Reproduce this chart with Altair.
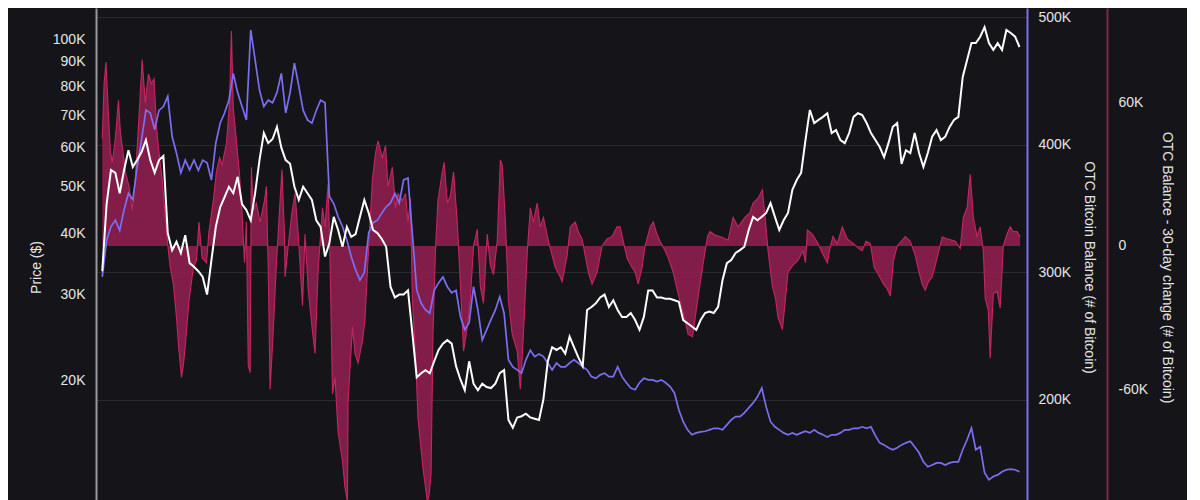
import altair as alt
import pandas as pd

# ---------------- data (values in thousands) ----------------
start = pd.Timestamp("2021-02-01")
week_days = [7 * i for i in range(211)]

price_k = [
    33.5, 46.0, 54.0, 53.3, 48.4, 54.0, 59.3, 54.8, 56.6, 58.8,
    62.2, 56.6, 53.3, 56.6, 57.7, 40.1, 37.0, 38.5, 36.5, 39.7,
    34.8, 34.2, 33.5, 32.6, 30.0, 35.3, 41.3, 45.3, 47.5, 49.9,
    48.4, 52.3, 46.0, 44.7, 42.6, 48.4, 56.6, 64.3, 61.3, 62.5,
    66.2, 60.0, 56.6, 55.6, 49.9, 46.9, 49.9, 48.4, 46.9, 42.6,
    41.3, 35.9, 38.2, 43.3, 40.7, 37.6, 41.3, 39.4, 39.9, 43.3,
    46.9, 44.1, 40.7, 40.1, 39.0, 37.6, 31.1, 29.6, 30.0, 30.0,
    30.6, 25.0, 20.3, 20.7, 21.0, 20.7, 21.9, 23.1, 23.8, 24.2,
    23.8, 21.4, 20.1, 19.1, 21.9, 19.7, 19.1, 19.7, 19.4, 19.3,
    19.7, 20.7, 21.0, 16.6, 16.0, 16.8, 16.9, 17.1, 16.8, 16.7,
    16.6, 18.3, 21.9, 23.4, 23.1, 23.4, 22.7, 24.6, 23.4, 22.3,
    21.4, 27.9, 28.3, 28.8, 29.6, 30.0, 28.3, 29.2, 27.9, 27.0,
    27.0, 27.5, 26.6, 25.4, 27.0, 30.6, 30.6, 29.6, 29.6, 29.4,
    29.4, 29.2, 29.0, 26.6, 26.2, 25.8, 25.4, 26.6, 27.5, 27.7,
    27.5, 28.3, 32.1, 34.8, 35.3, 36.5, 37.0, 37.6, 40.7, 43.3,
    42.6, 43.3, 44.1, 46.2, 43.3, 40.7, 42.6, 44.1, 49.2, 51.5,
    53.3, 62.2, 71.7, 67.4, 68.4, 69.4, 70.6, 64.3, 65.2, 62.2,
    61.3, 64.3, 69.4, 70.6, 70.0, 67.4, 64.3, 62.2, 60.2, 57.4,
    61.3, 66.2, 67.4, 55.6, 59.3, 58.5, 64.3, 58.5, 54.8, 58.5,
    63.2, 65.2, 62.2, 63.2, 66.2, 68.4, 69.4, 83.8, 90.8, 98.3,
    98.3, 101.3, 106.0, 98.3, 95.2, 98.3, 95.2, 104.6, 103.1, 101.3,
    96.5,
]

otc_balance_k = [
    296.5, 325, 336, 341, 333, 349, 362, 357, 383, 404,
    427.4, 425, 412, 427, 430, 438, 406.5, 393.5, 378, 388,
    380.4, 388, 380, 388, 386, 372.5, 401.5, 417, 425, 435,
    456, 441, 430, 419.6, 490, 466.6, 443, 430, 435, 433,
    441, 456, 425, 441, 464, 446, 427, 419.6, 417, 427,
    435, 433, 359.5, 354, 343.6, 336, 325.5, 312.4, 302, 294,
    300, 331, 339, 341, 346.5, 351.5, 354.5, 362, 354.5, 372.5,
    374, 330, 286.3, 276, 270.6, 268, 286, 291.8, 296.5, 288.8,
    284, 286, 265.3, 255, 260.5, 288.8, 270.6, 247, 255, 263,
    270.6, 281, 268, 231.5, 226, 223.6, 221, 231.5, 239, 234,
    236, 234, 229, 223.6, 229, 226, 226, 229, 231.5, 229,
    226, 223.6, 218.3, 217, 219.7, 221, 218.3, 218.3, 226, 218.3,
    213.5, 209.4, 208, 213.5, 217, 215.8, 215.8, 214.5, 215.8, 213.5,
    210.5, 205.5, 192.3, 183, 176.6, 172.7, 174.2, 175, 175.5, 176.6,
    177.8, 177.8, 176.6, 180.5, 184.4, 187, 187, 189.9, 193.8, 197.7,
    202.5, 209.4, 194.6, 183, 179, 176.6, 174.2, 172.7, 174.2, 172.7,
    174.2, 175.5, 174.2, 176.6, 174.2, 172.7, 171, 172.7, 172.7, 174.2,
    176.6, 176.6, 177.8, 177.8, 179, 177.8, 179, 172, 166.4, 164.8,
    162.5, 161, 162.5, 164.8, 166.4, 167.6, 163.3, 158.6, 151.5, 147.6,
    149, 150.7, 150.7, 149, 150.7, 151.5, 151.5, 161, 168.8, 178,
    161, 163.3, 143, 137.4, 140, 141.3, 143.7, 145.3, 145.8, 145.3,
    143.7,
]

change_days = [
    0, 3, 6, 10, 13, 16, 21, 26, 29, 34, 38, 43, 48, 53, 58, 64, 69, 74, 79, 83,
    87, 91, 96, 101, 106, 109, 114, 119, 123, 127, 130, 133, 139, 146, 151, 155, 160, 167, 171, 178,
    183, 188, 192, 199, 204, 207, 210, 215, 220, 224, 228, 231, 234, 237, 239, 242, 247, 253, 260, 263,
    266, 269, 274, 279, 285, 288, 292, 293, 298, 304, 309, 314, 321, 325, 330, 337, 341, 346, 353, 357,
    362, 365, 369, 373, 378, 385, 389, 393, 394, 401, 405, 410, 417, 421, 426, 433, 438, 442, 449, 454,
    458, 465, 470, 474, 481, 486, 490, 494, 497, 502, 506, 514, 521, 524, 527, 530, 534, 538, 545, 548,
    553, 558, 563, 569, 574, 579, 585, 590, 595, 601, 606, 611, 617, 622, 627, 633, 638, 641, 646, 651,
    657, 665, 670, 675, 681, 686, 691, 697, 702, 707, 715, 721, 726, 734, 737, 745, 750, 758, 763, 769,
    774, 779, 785, 793, 801, 809, 817, 825, 830, 835, 841, 849, 854, 859, 865, 870, 878, 883, 889, 894,
    902, 907, 915, 923, 931, 939, 946, 954, 962, 970, 974, 982, 990, 1003, 1011, 1019, 1030, 1038, 1043, 1051,
    1058, 1063, 1067, 1074, 1079, 1083, 1090, 1095, 1099, 1107, 1115, 1123, 1127, 1130, 1138, 1147, 1154, 1162, 1167, 1171,
    1178, 1186, 1194, 1204, 1212, 1218, 1224, 1231, 1237, 1244, 1252, 1258, 1263, 1268, 1274, 1287, 1295, 1303, 1308, 1314,
    1319, 1324, 1330, 1338, 1346, 1354, 1367, 1375, 1380, 1386, 1391, 1396, 1402, 1407, 1412, 1415, 1420, 1423, 1428, 1434,
    1439, 1444, 1450, 1455, 1460, 1466, 1471,
]

change_k = [
    45, 68, 77, 55, 40, 35, 45, 61, 48, 38, 30, 25, 15, 28, 50, 78, 60, 72, 68, 70,
    50, 39, 28, 12, -2, -9, -16, -30, -44, -55, -50, -42, -23, -9, -6, 10, -5, -7, 6, 19,
    31, 37, 34, 43, 60, 90, 58, 44, 30, 14, -7, 10, -50, -53, 33, 15, 18, 10, 19, 25,
    -9, -60, -36, -8, 19, 32, 5, -13, 0, 14, 22, 5, -25, 5, -18, -36, -45, -10, 16, 8,
    26, -5, -62, -55, -78, -90, -101, -107, -65, -34, -45, -49, -40, -31, -5, 28, 39, 44, 37, 42,
    25, 33, 16, 22, 19, 22, 10, 20, -22, -45, -72, -93, -107, -104, -95, -37, -2, 19, 31, 35,
    18, 21, 31, 10, -16, -44, -34, -22, 0, 7, -17, -24, 5, -8, -12, 2, 36, 34, 11, -23,
    -37, -44, -60, -37, -3, 16, 10, 18, 8, 12, 2, -4, -9, -13, -15, -4, 8, 10, 6, 3,
    -4, -11, -16, -11, 0, 3, 4, 8, 8, 2, -5, -9, -11, -16, -9, 0, 8, 10, 5, 2,
    -2, -5, -11, -20, -28, -37, -38, -23, -9, 4, 6, 4.6, 4, 2.5, 12, 8, 12, 14, 18, 20,
    23.5, 10, -2, -17, -22, -30, -35, -22, -11, -8, -6, -2, -7, 6.7, 5, 1, -3, -7, 0, 4,
    1, 8, 3, 1, -1, -2, 2, 1, -9, -12, -16, -18, -21, -6, 0, 4, 2, -4, -10, -16,
    -18.5, -15, -13, -5, 3.8, 3, 2, -1, 12, 16, 30, 12, 4, 8, -2, -22, -27, -47, -20, -19,
    -26, 0, 5, 8, 6, 6, 4,
]

weekly = pd.DataFrame({
    "date": [start + pd.Timedelta(days=d) for d in week_days],
    "price": price_k,
    "balance": otc_balance_k,
})
change = pd.DataFrame({
    "date": [start + pd.Timedelta(days=d) for d in change_days],
    "change": change_k,
})

# ---------------- styling ----------------
FONT = "Liberation Sans"
TXT = "#e4e4e6"
BG = "#151519"
PINK_FILL = "#8c1e4e"
PINK_LINE = "#c42662"
BLUE = "#7a6ff0"

x_enc = alt.X(
    "date:T",
    axis=None,
    scale=alt.Scale(domain=[alt.DateTime(year=2021, month=1, date=22),
                            alt.DateTime(year=2025, month=2, date=22)]),
)

change_scale = alt.Scale(domain=[-106.35, 99.65], nice=False, zero=False)

area = alt.Chart(change).mark_area(color=PINK_FILL, opacity=0.92, clip=True).encode(
    x=x_enc,
    y=alt.Y(
        "change:Q",
        scale=change_scale,
        axis=alt.Axis(
            orient="right", offset=80, values=[-60, 0, 60],
            labelExpr="datum.value == 0 ? '0' : datum.value + 'K'",
            title="OTC Balance - 30-day change (# of Bitcoin)",
            titleAngle=90, titleX=59, titleY=259, titleAlign="center", titleBaseline="middle",
            domainColor="#7c2b48", domainWidth=2, grid=False,
        ),
    ),
    y2=alt.datum(0),
)

pink_line = alt.Chart(change).mark_line(color=PINK_LINE, strokeWidth=1.1, clip=True).encode(
    x=x_enc,
    y=alt.Y("change:Q", scale=change_scale, axis=None),
)

blue = alt.Chart(weekly).mark_line(color=BLUE, strokeWidth=1.7, clip=True).encode(
    x=x_enc,
    y=alt.Y(
        "balance:Q",
        scale=alt.Scale(domain=[121.6, 507.3], nice=False, zero=False),
        axis=alt.Axis(
            orient="right", values=[200, 300, 400, 500],
            labelExpr="datum.value + 'K'",
            title="OTC Bitcoin Balance (# of Bitcoin)",
            titleAngle=90, titleX=61, titleY=259, titleAlign="center", titleBaseline="middle",
            domainColor=BLUE, domainWidth=2,
            grid=True, gridColor="#2a2a30", gridWidth=1,
        ),
    ),
)

white = alt.Chart(weekly).mark_line(color="#ffffff", strokeWidth=2, clip=True).encode(
    x=x_enc,
    y=alt.Y(
        "price:Q",
        scale=alt.Scale(type="log", domain=[11.38, 116.0], nice=False),
        axis=alt.Axis(
            orient="left", values=[20, 30, 40, 50, 60, 70, 80, 90, 100],
            labelExpr="datum.value + 'K'",
            title="Price ($)",
            titleAngle=270, titleX=-60, titleY=259, titleAlign="center", titleBaseline="middle",
            domainColor="#9a9a9e", domainWidth=2, grid=False,
        ),
    ),
)

chart = (
    alt.layer(area, pink_line, blue, white)
    .resolve_scale(y="independent")
    .properties(
        width=931,
        height=492,
        background=BG,
        padding={"left": 88, "top": 0, "right": 160, "bottom": 0},
        autosize=alt.AutoSizeParams(type="none"),
    )
    .configure_view(stroke=None)
    .configure_axis(
        labelFont=FONT, titleFont=FONT, labelFontSize=14, titleFontSize=14,
        labelColor=TXT, titleColor=TXT, titleFontWeight="normal",
        ticks=False, labelPadding=11,
    )
)

chart.save("out.html", embed_options={"renderer": "svg", "actions": False})
